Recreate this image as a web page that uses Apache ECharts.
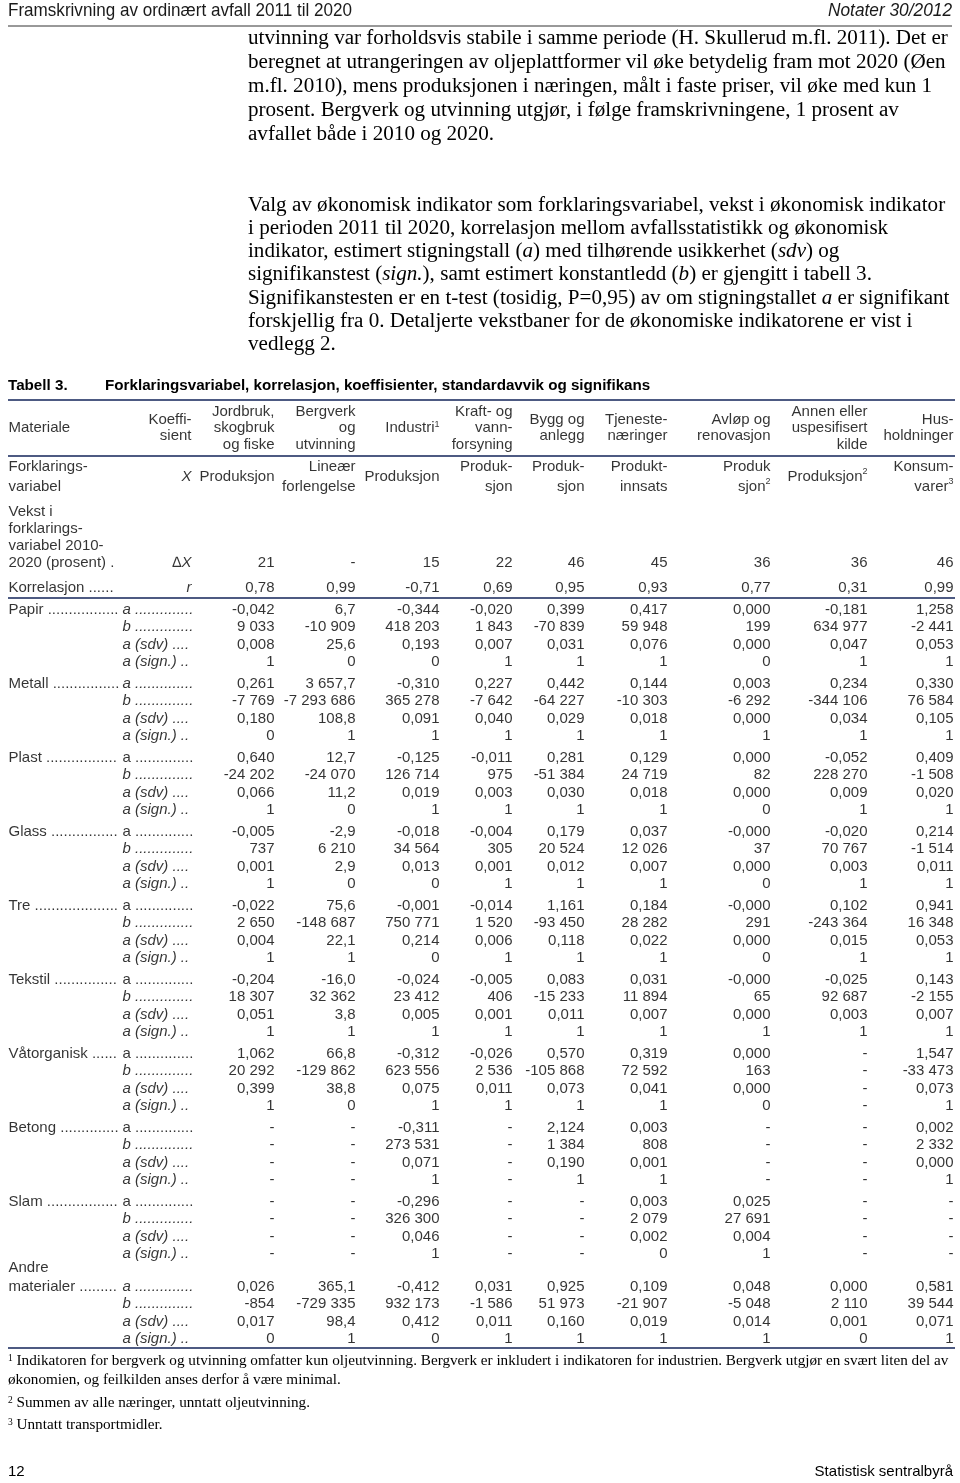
<!DOCTYPE html>
<html>
<head>
<meta charset="utf-8">
<style>
  html, body { margin: 0; padding: 0; background: #fff; }
  #chart { width: 960px; height: 1483px; }
</style>
<script src="https://cdn.jsdelivr.net/npm/echarts@6/dist/echarts.min.js"></script>
</head>
<body>
<div id="chart"></div>
<script>
// ---------- data (as printed in the table) ----------
const industries = ['Jordbruk,\nskogbruk\nog fiske', 'Bergverk\nog\nutvinning', 'Industri{sup|1}', 'Kraft- og\nvann-\nforsyning',
  'Bygg og\nanlegg', 'Tjeneste-\nnæringer', 'Avløp og\nrenovasjon', 'Annen eller\nuspesifisert\nkilde', 'Hus-\nholdninger'];
const indicators = ['Produksjon', 'Lineær\nforlengelse', 'Produksjon', 'Produk-\nsjon', 'Produk-\nsjon', 'Produkt-\ninnsats',
  'Produk\nsjon{sup|2}', 'Produksjon{sup|2}', 'Konsum-\nvarer{sup|3}'];
const growth = ['21', '-', '15', '22', '46', '45', '36', '36', '46'];
const correlation = ['0,78', '0,99', '-0,71', '0,69', '0,95', '0,93', '0,77', '0,31', '0,99'];
const materials = ['Papir', 'Metall', 'Plast', 'Glass', 'Tre', 'Tekstil', 'Våtorganisk', 'Betong', 'Slam', 'Andre\nmaterialer'];
const coefLabels = ['a', 'b', 'a (sdv)', 'a (sign.)'];

const papir = [
  ['-0,042', '6,7', '-0,344', '-0,020', '0,399', '0,417', '0,000', '-0,181', '1,258'],
  ['9 033', '-10 909', '418 203', '1 843', '-70 839', '59 948', '199', '634 977', '-2 441'],
  ['0,008', '25,6', '0,193', '0,007', '0,031', '0,076', '0,000', '0,047', '0,053'],
  ['1', '0', '0', '1', '1', '1', '0', '1', '1']];
const metall = [
  ['0,261', '3 657,7', '-0,310', '0,227', '0,442', '0,144', '0,003', '0,234', '0,330'],
  ['-7 769', '-7 293 686', '365 278', '-7 642', '-64 227', '-10 303', '-6 292', '-344 106', '76 584'],
  ['0,180', '108,8', '0,091', '0,040', '0,029', '0,018', '0,000', '0,034', '0,105'],
  ['0', '1', '1', '1', '1', '1', '1', '1', '1']];
const plast = [
  ['0,640', '12,7', '-0,125', '-0,011', '0,281', '0,129', '0,000', '-0,052', '0,409'],
  ['-24 202', '-24 070', '126 714', '975', '-51 384', '24 719', '82', '228 270', '-1 508'],
  ['0,066', '11,2', '0,019', '0,003', '0,030', '0,018', '0,000', '0,009', '0,020'],
  ['1', '0', '1', '1', '1', '1', '0', '1', '1']];
const glass = [
  ['-0,005', '-2,9', '-0,018', '-0,004', '0,179', '0,037', '-0,000', '-0,020', '0,214'],
  ['737', '6 210', '34 564', '305', '20 524', '12 026', '37', '70 767', '-1 514'],
  ['0,001', '2,9', '0,013', '0,001', '0,012', '0,007', '0,000', '0,003', '0,011'],
  ['1', '0', '0', '1', '1', '1', '0', '1', '1']];
const tre = [
  ['-0,022', '75,6', '-0,001', '-0,014', '1,161', '0,184', '-0,000', '0,102', '0,941'],
  ['2 650', '-148 687', '750 771', '1 520', '-93 450', '28 282', '291', '-243 364', '16 348'],
  ['0,004', '22,1', '0,214', '0,006', '0,118', '0,022', '0,000', '0,015', '0,053'],
  ['1', '1', '0', '1', '1', '1', '0', '1', '1']];
const tekstil = [
  ['-0,204', '-16,0', '-0,024', '-0,005', '0,083', '0,031', '-0,000', '-0,025', '0,143'],
  ['18 307', '32 362', '23 412', '406', '-15 233', '11 894', '65', '92 687', '-2 155'],
  ['0,051', '3,8', '0,005', '0,001', '0,011', '0,007', '0,000', '0,003', '0,007'],
  ['1', '1', '1', '1', '1', '1', '1', '1', '1']];
const vatorganisk = [
  ['1,062', '66,8', '-0,312', '-0,026', '0,570', '0,319', '0,000', '-', '1,547'],
  ['20 292', '-129 862', '623 556', '2 536', '-105 868', '72 592', '163', '-', '-33 473'],
  ['0,399', '38,8', '0,075', '0,011', '0,073', '0,041', '0,000', '-', '0,073'],
  ['1', '0', '1', '1', '1', '1', '0', '-', '1']];
const betong = [
  ['-', '-', '-0,311', '-', '2,124', '0,003', '-', '-', '0,002'],
  ['-', '-', '273 531', '-', '1 384', '808', '-', '-', '2 332'],
  ['-', '-', '0,071', '-', '0,190', '0,001', '-', '-', '0,000'],
  ['-', '-', '1', '-', '1', '1', '-', '-', '1']];
const slam = [
  ['-', '-', '-0,296', '-', '-', '0,003', '0,025', '-', '-'],
  ['-', '-', '326 300', '-', '-', '2 079', '27 691', '-', '-'],
  ['-', '-', '0,046', '-', '-', '0,002', '0,004', '-', '-'],
  ['-', '-', '1', '-', '-', '0', '1', '-', '-']];
const andre = [
  ['0,026', '365,1', '-0,412', '0,031', '0,925', '0,109', '0,048', '0,000', '0,581'],
  ['-854', '-729 335', '932 173', '-1 586', '51 973', '-21 907', '-5 048', '2 110', '39 544'],
  ['0,017', '98,4', '0,412', '0,011', '0,160', '0,019', '0,014', '0,001', '0,071'],
  ['0', '1', '0', '1', '1', '1', '1', '0', '1']];
const materialRows = [papir, metall, plast, glass, tre, tekstil, vatorganisk, betong, slam, andre];

// ---------- layout ----------
const SANS = '"Liberation Sans", Arial, sans-serif';
const SERIF = '"Liberation Serif", "Times New Roman", serif';
const NARROW = '"Liberation Sans Narrow", "Arial Narrow", "Liberation Sans", sans-serif';
const colX = [275, 356, 440, 513, 585, 668, 771, 868, 954]; // right edges of value columns
const coefX = 192, labelX = 8, subX = 122;
const rowStep = 17.2, groupStep = 74;
const italicA = [true, true, false, false, false, false, false, false, false, true];
const subDots = [null, null, 4, 2]; // fixed leader length for sdv / sign rows
const lineColor = '#4d5a82';

const ctx = document.createElement('canvas').getContext('2d');
function textWidth(str, font) { ctx.font = font; return ctx.measureText(str).width; }
function leader(str, fromX, toX, italic) {
  const font = (italic ? 'italic ' : '') + '15px ' + SANS;
  const n = Math.floor((toX - fromX - textWidth(str + ' ', font)) / textWidth('.', font));
  return str + ' ' + '.'.repeat(Math.max(n, 0));
}

// table cells -> scatter points with labels
const cells = [];
function put(x, y, text, label) {
  const item = { value: [x, y], text: text };
  if (label) item.label = label;
  cells.push(item);
}
const LEFT = { position: 'right' };
const ITAL = { fontStyle: 'italic' };

// header
put(labelX, 428, 'Materiale', LEFT);
put(coefX, 428, 'Koeffi-\nsient');
industries.forEach((t, i) => put(colX[i], 428, t));
// explanatory variable
put(labelX, 477, 'Forklarings-\nvariabel', { position: 'right', lineHeight: 20 });
put(coefX, 477, 'X', ITAL);
indicators.forEach((t, i) => put(colX[i], 477, t, { lineHeight: 20 }));
// growth
put(labelX, 537.5, 'Vekst i\nforklarings-\nvariabel 2010-\n2020 (prosent) .', { position: 'right', lineHeight: 17 });
put(coefX, 563, '\u2206X', ITAL);
growth.forEach((t, i) => put(colX[i], 563, t));
// correlation
put(labelX, 588, 'Korrelasjon ......', LEFT);
put(coefX, 588, 'r', ITAL);
correlation.forEach((t, i) => put(colX[i], 588, t));

// material blocks
let y = 610;
materialRows.forEach((rows, g) => {
  const names = materials[g].split('\n');
  if (names.length > 1) y += 11;
  names.forEach((nm, k) => {
    const last = k === names.length - 1;
    put(labelX, y - (names.length - 1 - k) * 19, last ? leader(nm, labelX, 120) : nm, LEFT);
  });
  rows.forEach((vals, r) => {
    const ry = y + r * rowStep;
    const ital = r > 0 || italicA[g];
    const lab = subDots[r] ? coefLabels[r] + ' ' + '.'.repeat(subDots[r]) : leader(coefLabels[r], subX, 193, ital);
    put(subX, ry, lab, ital ? { position: 'right', fontStyle: 'italic' } : LEFT);
    vals.forEach((v, c) => put(colX[c], ry, v));
  });
  y += groupStep;
});

// ---------- page text ----------
const para1 = [
  'utvinning var forholdsvis stabile i samme periode (H. Skullerud m.fl. 2011). Det er',
  'beregnet at utrangeringen av oljeplattformer vil øke betydelig fram mot 2020 (Øen',
  'm.fl. 2010), mens produksjonen i næringen, målt i faste priser, vil øke med kun 1',
  'prosent. Bergverk og utvinning utgjør, i følge framskrivningene, 1 prosent av',
  'avfallet både i 2010 og 2020.'];
const para2 = [
  '{r|Valg av økonomisk indikator som forklaringsvariabel, vekst i økonomisk indikator}',
  '{r|i perioden 2011 til 2020, korrelasjon mellom avfallsstatistikk og økonomisk}',
  '{r|indikator, estimert stigningstall (}{i|a}{r|) med tilhørende usikkerhet (}{i|sdv}{r|) og}',
  '{r|signifikanstest (}{i|sign.}{r|), samt estimert konstantledd (}{i|b}{r|) er gjengitt i tabell 3.}',
  '{r|Signifikanstesten er en t-test (tosidig, P=0,95) av om stigningstallet }{i|a}{r| er signifikant}',
  '{r|forskjellig fra 0. Detaljerte vekstbaner for de økonomiske indikatorene er vist i}',
  '{r|vedlegg 2.}'];
const notes = [
  '{s|1}{r| Indikatoren for bergverk og utvinning omfatter kun oljeutvinning. Bergverk er inkludert i indikatoren for industrien. Bergverk utgjør en svært liten del av}',
  '{r|økonomien, og feilkilden anses derfor å være minimal.}',
  '{s|2}{r| Summen av alle næringer, unntatt oljeutvinning.}',
  '{s|3}{r| Unntatt transportmidler.}'];

const bodySize = 21.1;
const bodyRich = {
  r: { fontFamily: SERIF, fontSize: bodySize, fill: '#000' },
  i: { fontFamily: SERIF, fontSize: bodySize, fontStyle: 'italic', fill: '#000' }
};
const noteRich = {
  r: { fontFamily: SERIF, fontSize: 15.2, fill: '#000' },
  s: { fontFamily: SERIF, fontSize: 9.5, fill: '#000', verticalAlign: 'top', lineHeight: 9 }
};

const graphics = [];
function text(x, yy, str, style, extra) {
  graphics.push(Object.assign({
    type: 'text', x: x, y: yy, silent: true,
    style: Object.assign({ text: str, fill: '#000', textVerticalAlign: 'middle' }, style)
  }, extra || {}));
}
function hline(x1, x2, yy, color, w) {
  graphics.push({ type: 'line', silent: true, shape: { x1: x1, y1: yy, x2: x2, y2: yy },
    style: { stroke: color, lineWidth: w } });
}

// running head
const headFont = '19px ' + NARROW;
const headL = 'Framskrivning av ordinært avfall 2011 til 2020';
const headR = 'Notater 30/2012';
text(8, 11, headL, { font: headFont, fill: '#1a1a1a' }, { scaleX: 344 / textWidth(headL, headFont) });
text(952, 11, headR, { font: 'italic ' + headFont, fill: '#1a1a1a', textAlign: 'right' },
  { scaleX: 124 / textWidth(headR, 'italic ' + headFont) });
hline(8, 952, 26, '#333', 1);

para1.forEach((t, i) => text(248, 38 + i * 24, t, { font: bodySize + 'px ' + SERIF }));
para2.forEach((t, i) => text(248, 205 + i * 23.3, t, { rich: bodyRich }));

// table title and rules
text(8, 386, 'Tabell 3.', { font: 'bold 15.2px ' + SANS });
text(105, 386, 'Forklaringsvariabel, korrelasjon, koeffisienter, standardavvik og signifikans', { font: 'bold 15.2px ' + SANS });
hline(8, 955, 400, lineColor, 2);
hline(8, 955, 456, lineColor, 2);
hline(8, 955, 598, lineColor, 2);
hline(8, 955, 1348, lineColor, 2);

const noteY = [1361, 1380, 1403, 1425];
notes.forEach((t, i) => text(8, noteY[i], t, { rich: noteRich }));

text(8, 1472, '12', { font: '15px ' + SANS });
text(953, 1472, 'Statistisk sentralbyrå', { font: '15px ' + SANS, textAlign: 'right' });

// ---------- chart ----------
const chart = echarts.init(document.getElementById('chart'));
chart.setOption({
  animation: false,
  grid: { left: 0, right: 0, top: 0, bottom: 0 },
  xAxis: { type: 'value', min: 0, max: 960, show: false },
  yAxis: { type: 'value', min: 0, max: 1483, inverse: true, show: false },
  graphic: { elements: graphics },
  series: [{
    type: 'scatter',
    data: cells,
    symbolSize: 1,
    itemStyle: { color: 'rgba(0,0,0,0)' },
    silent: true,
    emphasis: { disabled: true },
    label: {
      show: true,
      position: 'left',
      distance: 0,
      color: '#000',
      fontFamily: SANS,
      fontSize: 15,
      lineHeight: 16.5,
      formatter: (p) => p.data.text,
      rich: {
        sup: { fontSize: 9, fontFamily: SANS, color: '#000', verticalAlign: 'top', lineHeight: 9 }
      }
    }
  }]
});
</script>
</body>
</html>
